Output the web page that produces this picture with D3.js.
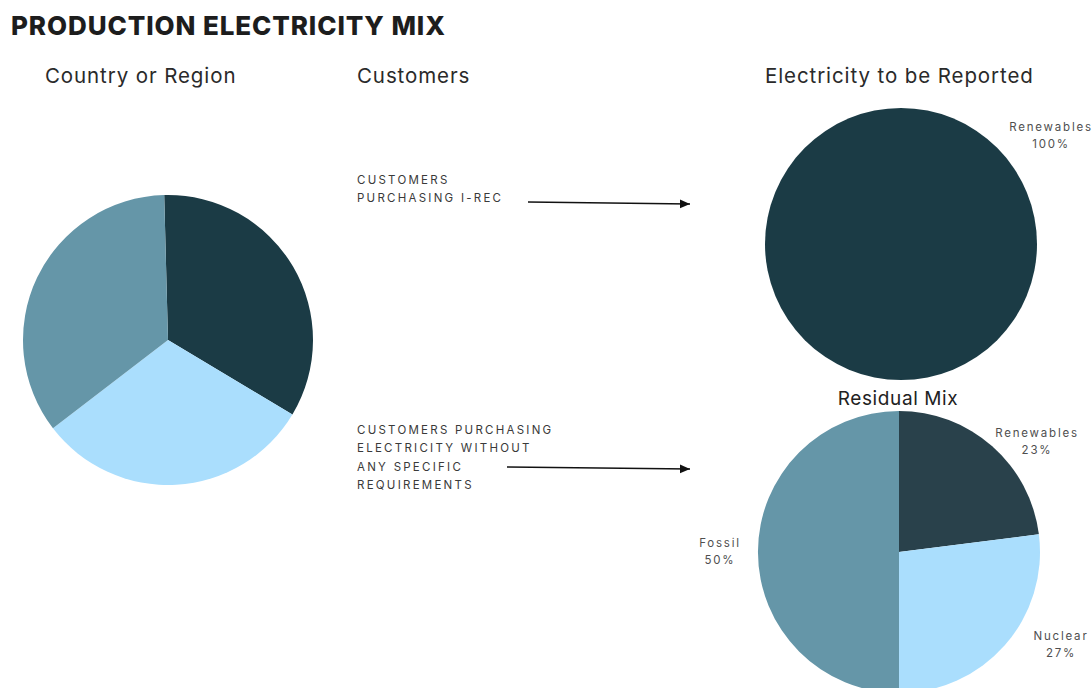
<!DOCTYPE html>
<html><head><meta charset="utf-8">
<script src="https://cdn.jsdelivr.net/npm/d3@7"></script>
<style>body{margin:0;background:#fff}svg{display:block}</style>
</head><body>
<svg id="c" width="1092" height="688"></svg>
<script>
// Data
const regionCategories = ["Renewables", "Nuclear", "Fossil"];
const regionValues = [34, 31, 35];
const reportedCategories = ["Renewables"];
const reportedValues = [100];
const residualCategories = ["Renewables", "Nuclear", "Fossil"];
const residualValues = [23, 27, 50];
const customerLabels = [
  ["CUSTOMERS", "PURCHASING I-REC"],
  ["CUSTOMERS PURCHASING", "ELECTRICITY WITHOUT", "ANY SPECIFIC", "REQUIREMENTS"]
];

const svg = d3.select("#c");
const font = "Inter, 'Open Sans', sans-serif";

svg.append("text").attr("x", 11).attr("y", 35)
  .attr("font-family", font).attr("font-weight", 800).attr("font-size", 26)
  .attr("letter-spacing", 0.9)
  .attr("fill", "#1d1d1d").text("PRODUCTION ELECTRICITY MIX");

const heads = [["Country or Region", 45, 83], ["Customers", 357, 83], ["Electricity to be Reported", 765, 83]];
heads.forEach(h => svg.append("text").attr("x", h[1]).attr("y", h[2])
  .attr("font-family", font).attr("font-size", 20.5).attr("fill", "#2a2a2a")
  .attr("letter-spacing", 0.9).text(h[0]));

svg.append("text").attr("x", 898).attr("y", 405).attr("text-anchor", "middle")
  .attr("font-family", font).attr("font-size", 19).attr("letter-spacing", 0.6)
  .attr("fill", "#222").text("Residual Mix");

function drawPie(cx, cy, r, values, cats, colors, startDeg) {
  const pie = d3.pie().sort(null).value(d => d)
    .startAngle(startDeg * Math.PI / 180).endAngle((startDeg + 360) * Math.PI / 180);
  const arc = d3.arc().innerRadius(0).outerRadius(r);
  const g = svg.append("g").attr("transform", `translate(${cx},${cy})`);
  g.selectAll("path").data(pie(values)).join("path")
    .attr("d", arc).attr("fill", (d, i) => colors[i]);
  return pie(values);
}

drawPie(168, 340, 145, regionValues, regionCategories, ["#1b3b45", "#aadefd", "#6596a8"], -1.5);
drawPie(901, 244, 136, reportedValues, reportedCategories, ["#1b3b45"], 0);
drawPie(899, 552, 141, residualValues, residualCategories, ["#29414b", "#aadefd", "#6596a8"], 0);

function label(x, y, lines) {
  const t = svg.append("text").attr("text-anchor", "middle")
    .attr("font-family", font).attr("font-size", 11.5).attr("fill", "#4f4f4f")
    .attr("letter-spacing", 1.8);
  lines.forEach((l, i) => t.append("tspan").attr("x", x).attr("y", y + i * 16.5).text(l));
}
label(1051, 131, [reportedCategories[0], reportedValues[0] + "%"]);
label(1037, 437, [residualCategories[0], residualValues[0] + "%"]);
label(1061, 640, [residualCategories[1], residualValues[1] + "%"]);
label(720, 547, [residualCategories[2], residualValues[2] + "%"]);

function block(x, y, lines) {
  const t = svg.append("text").attr("font-family", font).attr("font-size", 11.5)
    .attr("fill", "#3a3a3a").attr("letter-spacing", 2.25);
  lines.forEach((l, i) => t.append("tspan").attr("x", x).attr("y", y + i * 18.3).text(l));
}
block(357, 184, customerLabels[0]);
block(357, 434, customerLabels[1]);

svg.append("defs").append("marker").attr("id", "ah").attr("viewBox", "0 0 10 10")
  .attr("refX", 9).attr("refY", 5).attr("markerWidth", 7).attr("markerHeight", 7)
  .attr("orient", "auto").append("path").attr("d", "M0,1 L9,5 L0,9 Z").attr("fill", "#111");
[[528, 202, 690, 204], [507, 467, 690, 469]].forEach(a =>
  svg.append("line").attr("x1", a[0]).attr("y1", a[1]).attr("x2", a[2]).attr("y2", a[3])
    .attr("stroke", "#111").attr("stroke-width", 1.6).attr("marker-end", "url(#ah)"));
</script>
</body></html>
